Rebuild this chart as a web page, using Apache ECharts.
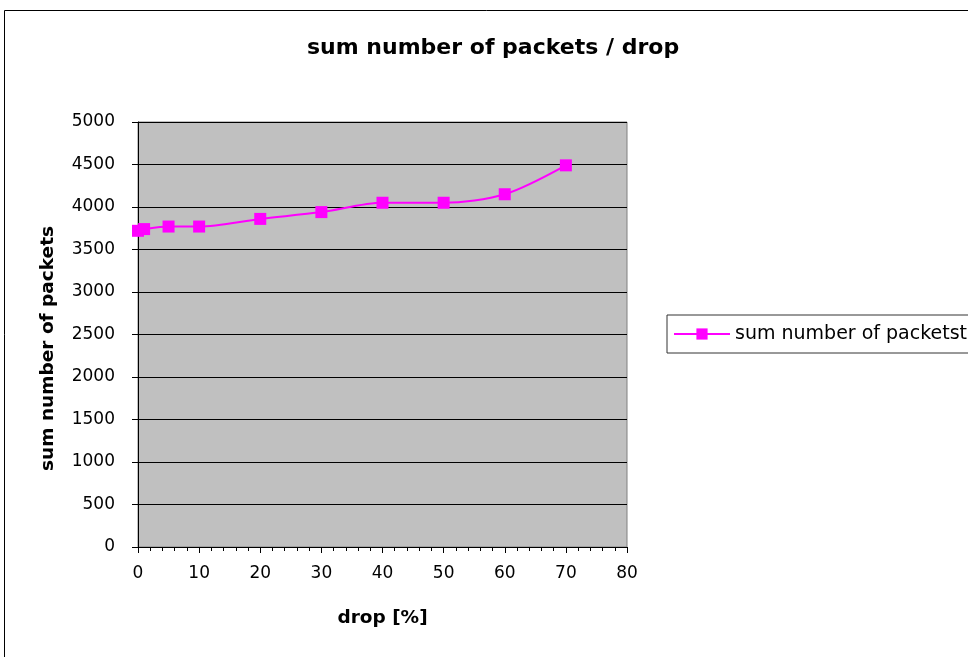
<!DOCTYPE html>
<html>
<head>
<meta charset="utf-8">
<script src="https://cdn.jsdelivr.net/npm/echarts@6/dist/echarts.min.js"></script>
<style>
  html, body { margin: 0; padding: 0; background: #fff; }
  #chart { width: 968px; height: 657px; }
</style>
</head>
<body>
<div id="chart"></div>
<script>
// Packet totals measured at each drop rate
const dropPercent = [0, 1, 5, 10, 20, 30, 40, 50, 60, 70];
const sumPackets = [3720, 3740, 3770, 3770, 3860, 3940, 4050, 4050, 4150, 4490];

const chartTitle = 'sum number of packets / drop';
const seriesName = 'sum number of packetst';
const xAxisName = 'drop [%]';
const yAxisName = 'sum number of packets';

const FONT = 'DejaVu Sans';

const chart = echarts.init(document.getElementById('chart'));

chart.setOption({
  backgroundColor: '#ffffff',
  animation: false,
  title: {
    text: chartTitle,
    left: 307,
    top: 37,
    padding: 0,
    textStyle: { fontFamily: FONT, fontSize: 22, fontWeight: 'bold', color: '#000' }
  },
  graphic: [{
    type: 'rect',
    shape: { x: 4.5, y: 10.5, width: 1000, height: 700 },
    style: { fill: 'none', stroke: '#000', lineWidth: 1 },
    silent: true,
    z: -1
  }],
  legend: {
    left: 667,
    top: 315,
    orient: 'vertical',
    padding: [8, 40, 8, 6],
    itemWidth: 56,
    itemHeight: 14,
    borderColor: '#333',
    borderWidth: 1,
    textStyle: { fontFamily: FONT, fontSize: 19, color: '#000', lineHeight: 22 },
    data: [seriesName]
  },
  grid: {
    left: 138,
    top: 122,
    right: 341,
    bottom: 110,
    show: true,
    backgroundColor: '#c0c0c0',
    borderColor: '#808080',
    borderWidth: 1
  },
  xAxis: {
    type: 'value',
    min: 0,
    max: 80,
    interval: 10,
    name: xAxisName,
    nameLocation: 'middle',
    nameGap: 62,
    nameTextStyle: { fontFamily: FONT, fontSize: 18.5, fontWeight: 'bold', color: '#000' },
    axisLine: { show: true, lineStyle: { color: '#000', width: 1 } },
    axisTick: { show: true, length: 6, lineStyle: { color: '#000' } },
    minorTick: { show: true, splitNumber: 5, length: 4, lineStyle: { color: '#000' } },
    splitLine: { show: false },
    axisLabel: { margin: 18, fontFamily: FONT, fontSize: 17, color: '#000' }
  },
  yAxis: {
    type: 'value',
    min: 0,
    max: 5000,
    interval: 500,
    name: yAxisName,
    nameLocation: 'middle',
    nameGap: 80,
    nameTextStyle: { fontFamily: FONT, fontSize: 18.5, fontWeight: 'bold', color: '#000', padding: [0, 28, 0, 0] },
    axisLine: { show: true, lineStyle: { color: '#000', width: 1 } },
    axisTick: { show: true, length: 6, lineStyle: { color: '#000' } },
    splitLine: { show: true, lineStyle: { color: '#000', width: 1 } },
    axisLabel: {
      margin: 23,
      fontFamily: FONT,
      fontSize: 17,
      color: '#000',
      formatter: (v) => String(v)
    }
  },
  series: [{
    name: seriesName,
    type: 'line',
    smooth: 0.3,
    data: dropPercent.map((d, i) => [d, sumPackets[i]]),
    symbol: 'rect',
    symbolSize: 12,
    itemStyle: { color: '#ff00ff' },
    lineStyle: { color: '#ff00ff', width: 2 }
  }]
});
</script>
</body>
</html>
